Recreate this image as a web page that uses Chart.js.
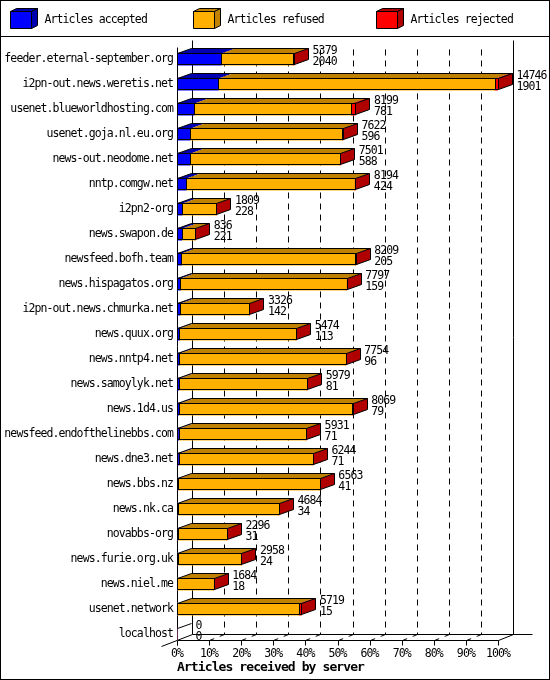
<!DOCTYPE html>
<html>
<head>
<meta charset="utf-8">
<script src="https://cdn.jsdelivr.net/npm/chart.js@4"></script>
<style>
html,body{margin:0;padding:0;background:#fff;}
#wrap{width:550px;height:680px;}
canvas{display:block;}
</style>
</head>
<body>
<div id="wrap"><canvas id="c" width="550" height="680"></canvas></div>
<script>
// ---------- data ----------
const hosts = ["feeder.eternal-september.org","i2pn-out.news.weretis.net","usenet.blueworldhosting.com","usenet.goja.nl.eu.org","news-out.neodome.net","nntp.comgw.net","i2pn2-org","news.swapon.de","newsfeed.bofh.team","news.hispagatos.org","i2pn-out.news.chmurka.net","news.quux.org","news.nntp4.net","news.samoylyk.net","news.1d4.us","newsfeed.endofthelinebbs.com","news.dne3.net","news.bbs.nz","news.nk.ca","novabbs-org","news.furie.org.uk","news.niel.me","usenet.network","localhost"];
const totals   = [5379,14746,8199,7622,7501,8194,1809,836,8209,7797,3326,5474,7754,5979,8069,5931,6244,6563,4684,2296,2958,1684,5719,0];
const accepted = [2040,1901,781,596,588,424,228,221,205,159,142,113,96,81,79,71,71,41,34,31,24,18,15,0];
const rejected = [40,150,190,20,20,40,10,5,30,10,10,10,10,10,30,5,5,5,5,5,5,5,120,0];
const refused  = totals.map((t,i)=>t-accepted[i]-rejected[i]);
const seriesNames = ["Articles accepted","Articles refused","Articles rejected"];
const xTicks = [0,10,20,30,40,50,60,70,80,90,100];
const axisTitle = "Articles received by server";

// ---------- styles ----------
const FONT = "DejaVu Sans Mono";
const FS = 11.5, LS = '-0.9px';
const frontCol = ["#0000ff","#ffb000","#ff0000"];
const darkCol  = ["#0000b0","#c08000","#b00000"];
const DX = 14, DY = 5;   // bar depth
const WX = 15, WY = 6;   // wall depth
const maxTotal = Math.max(...totals);
const pct = v => v / maxTotal * 100;

function poly(c, pts, fill, stroke){
  c.beginPath();
  c.moveTo(pts[0][0], pts[0][1]);
  for (let k=1;k<pts.length;k++) c.lineTo(pts[k][0], pts[k][1]);
  c.closePath();
  if (fill){ c.fillStyle = fill; c.fill(); }
  if (stroke){ c.strokeStyle = stroke; c.stroke(); }
}
function line(c, x1,y1,x2,y2){
  c.beginPath(); c.moveTo(x1,y1); c.lineTo(x2,y2); c.stroke();
}
const R = v => Math.round(v) + 0.5;

const threeD = {
  id: 'threeD',
  beforeDraw(chart){
    const c = chart.ctx;
    try { c.letterSpacing = LS; } catch(e) {}
    c.save();
    c.fillStyle = '#fff';
    c.fillRect(0,0,chart.width,chart.height);
    c.strokeStyle = '#000'; c.lineWidth = 1;
    c.strokeRect(0.5,0.5,chart.width-1,chart.height-1);
    line(c, 0, 36.5, chart.width, 36.5);
    // legend
    const lx = [10.5, 193.5, 376.5];
    c.font = FS + "px '" + FONT + "'";
    c.textBaseline = 'middle';
    c.textAlign = 'left';
    chart.data.datasets.forEach((ds, k) => {
      const x0 = lx[k], y0 = 11.5, w = 21, h = 17, dx = 6, dy = 3;
      poly(c, [[x0,y0],[x0+w,y0],[x0+w,y0+h],[x0,y0+h]], frontCol[k], '#000');
      poly(c, [[x0,y0],[x0+dx,y0-dy],[x0+w+dx,y0-dy],[x0+w,y0]], darkCol[k], '#000');
      poly(c, [[x0+w,y0],[x0+w+dx,y0-dy],[x0+w+dx,y0+h-dy],[x0+w,y0+h]], darkCol[k], '#000');
      c.fillStyle = '#000';
      c.fillText(ds.label, x0 + 34, 20.5);
    });
    c.restore();
  },
  beforeDatasetsDraw(chart){
    const c = chart.ctx, xs = chart.scales.x, ys = chart.scales.y, ca = chart.chartArea;
    const n = chart.data.labels.length;
    const floorY = R(ys.getPixelForValue(n-1) + 6) ;
    const backY = floorY - WY;
    const topY = R(ca.top - 7);
    const x0 = R(xs.getPixelForValue(0)), x100 = R(xs.getPixelForValue(100));
    c.save();
    c.strokeStyle = '#000'; c.lineWidth = 1;
    line(c, x0+WX, topY, x0+WX, backY);
    line(c, x100+WX, topY, x100+WX, backY);
    c.setLineDash([6,5]);
    xTicks.forEach(v => {
      if (v===0 || v===100) return;
      const px = R(xs.getPixelForValue(v)) + WX;
      line(c, px, topY + 9, px, backY);
    });
    c.setLineDash([]);
    line(c, x0+WX, backY, x100+WX+19, backY);
    line(c, x0, floorY, x100, floorY);
    line(c, x0, R(ca.top), x0, floorY+5);
    line(c, x0-16, floorY+6, x0+WX, backY);
    line(c, x100, floorY, x100+WX, backY);
    xTicks.forEach(v => {
      const px = R(xs.getPixelForValue(v));
      line(c, px, floorY, px, floorY+5);
      if (v!==0 && v!==100){
        c.setLineDash([5,6]);
        line(c, px, floorY, px+WX, backY);
        c.setLineDash([]);
      }
    });
    c.restore();
  },
  afterDatasetsDraw(chart){
    const c = chart.ctx, xs = chart.scales.x;
    const metas = chart.data.datasets.map((d,k)=>chart.getDatasetMeta(k));
    c.save();
    c.lineWidth = 1;
    chart.data.labels.forEach((lab, i) => {
      const els = metas.map(m => m.data[i]);
      const vals = chart.data.datasets.map(d => d.data[i]);
      const yc = els[0].y, hh = els[0].height;
      const t = R(yc - hh/2), b = R(yc + hh/2) - 1;
      const segs = els.map((e,k) => ({s: R(Math.min(e.base,e.x)), e: R(Math.max(e.base,e.x)), k}));
      const start = segs[0].s, end = segs[segs.length-1].e;
      segs.forEach(sg => {
        if (sg.e - sg.s <= 0) return;
        poly(c, [[sg.s,t],[sg.s+DX,t-DY],[sg.e+DX,t-DY],[sg.e,t]], darkCol[sg.k], null);
      });
      c.strokeStyle = '#000';
      line(c, start, t, start+DX, t-DY);
      if (end > start){
        line(c, start+DX, t-DY, end+DX, t-DY);
        let lastK = 0;
        vals.forEach((v,k) => { if (v > 0) lastK = k; });
        poly(c, [[end,t],[end+DX,t-DY],[end+DX,b-DY],[end,b]], darkCol[lastK], '#000');
        segs.forEach(sg => {
          if (sg.e - sg.s <= 0) return;
          c.strokeRect(sg.s, t, sg.e - sg.s, b - t);
        });
      }
      const lx = xs.getPixelForValue(pct(totals[i])) + DX + 4.5;
      c.fillStyle = '#000';
      c.font = FS + "px '" + FONT + "'";
      c.textAlign = 'left'; c.textBaseline = 'middle';
      c.fillText(String(totals[i]), lx, yc - 8.5);
      c.fillText(String(accepted[i]), lx, yc + 2.5);
    });
    c.restore();
  }
};

const ctx = document.getElementById('c').getContext('2d');
new Chart(ctx, {
  type: 'bar',
  data: {
    labels: hosts,
    datasets: [
      {label: seriesNames[0], data: accepted.map(pct), backgroundColor: frontCol[0]},
      {label: seriesNames[1], data: refused.map(pct),  backgroundColor: frontCol[1]},
      {label: seriesNames[2], data: rejected.map(pct), backgroundColor: frontCol[2]}
    ]
  },
  options: {
    indexAxis: 'y',
    responsive: false,
    animation: false,
    layout: {padding: {top: 46.7, right: 52, bottom: 0, left: 0}},
    datasets: {bar: {barThickness: 12, borderWidth: 0}},
    plugins: {legend: {display: false}, tooltip: {enabled: false}},
    scales: {
      x: {
        stacked: true, min: 0, max: 100,
        afterBuildTicks(s){ s.ticks = xTicks.map(v => ({value: v})); },
        ticks: {callback: v => v + '%', color: '#000', font: {family: FONT, size: FS}, padding: 0, maxRotation: 0, autoSkip: false},
        grid: {display: false, drawTicks: false},
        border: {display: false},
        title: {display: true, text: axisTitle, align: 'start', color: '#000',
                font: {family: FONT, size: 13, weight: 'bold'}, padding: {top: 0, bottom: 5}},
        afterFit(s){ s.height = 33.3; }
      },
      y: {
        stacked: true,
        ticks: {color: '#000', font: {family: FONT, size: FS}, padding: 4, autoSkip: false},
        grid: {display: false, drawTicks: false},
        border: {display: false},
        afterFit(s){ s.width = 177; }
      }
    }
  },
  plugins: [threeD]
});
</script>
</body>
</html>
